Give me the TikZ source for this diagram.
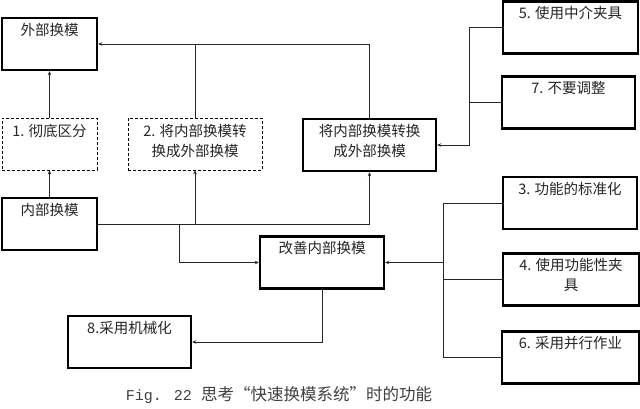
\documentclass[tikz,border=0pt]{standalone}
\usepackage{fontspec}
\setmainfont{Noto Sans CJK SC}
\newfontfamily\cjk{Noto Sans CJK SC}
\newfontfamily\monof{Liberation Mono}
\usetikzlibrary{arrows.meta}
\begin{document}
\begin{tikzpicture}[x=1pt,y=-1pt,
  bx/.style={draw=black, line width=2.4pt, minimum width=#1, minimum height=52pt, inner sep=0pt},
  dbx/.style={draw=black, line width=0.7pt, dashed, dash pattern=on 3pt off 2pt, minimum width=#1, minimum height=52pt, inner sep=0pt},
  txt/.style={font=\cjk\fontsize{14.5}{20}\selectfont, text=black!85, align=center, anchor=north, inner sep=0pt},
  cn/.style={draw=black!85, line width=0.8pt},
  ar/.style={cn, -{Stealth[length=4pt,width=3.5pt]}}]
\path[use as bounding box] (0,0) rectangle (640,408);
\fill[white] (0,0) rectangle (640,408);
% boxes
\node[bx=95pt] (ext) at (49.5,44) {};
\node[txt] (text) at ([yshift=-6pt]ext.north) {外部换模};
\node[dbx=95pt] (c1) at (49.5,144) {};
\node[txt] (tc1) at ([yshift=-6pt]c1.north) {1. 彻底区分};
\node[dbx=134pt] (c2) at (195,144) {};
\node[txt] (tc2) at ([yshift=-6pt]c2.north) {2. 将内部换模转\\换成外部换模};
\node[bx=133pt] (conv) at (369.5,145) {};
\node[txt] (tconv) at ([yshift=-6pt]conv.north) {将内部换模转换\\成外部换模};
\node[bx=95pt] (int) at (49.5,224) {};
\node[txt] (tint) at ([yshift=-6pt]int.north) {内部换模};
\node[bx=124pt] (imp) at (322,262.5) {};
\node[txt] (timp) at ([yshift=-6pt]imp.north) {改善内部换模};
\node[bx=123pt] (m8) at (129.5,342) {};
\node[txt] (tm8) at ([yshift=-6pt]m8.north) {8.采用机械化};
\node[bx=135pt] (b5) at (570.5,27.5) {};
\node[txt] (tb5) at ([yshift=-6pt]b5.north) {5. 使用中介夹具};
\node[bx=133pt] (b7) at (568.5,102.5) {};
\node[txt] (tb7) at ([yshift=-6pt]b7.north) {7. 不要调整};
\node[bx=134pt] (b3) at (570,203) {};
\node[txt] (tb3) at ([yshift=-6pt]b3.north) {3. 功能的标准化};
\node[bx=136pt] (b4) at (571,279.5) {};
\node[txt] (tb4) at ([yshift=-6pt]b4.north) {4. 使用功能性夹\\具};
\node[bx=137pt] (b6) at (570.5,357.5) {};
\node[txt] (tb6) at ([yshift=-6pt]b6.north) {6. 采用并行作业};
% connectors upper left
\draw[ar] (conv.north) |- (ext.east);
\draw[cn] (c2.north) -- (c2.north |- ext.east);
\draw[ar] (c1.north) -- (ext.south);
\draw[ar] (int.north) -- (c1.south);
\draw[ar] (int.east) -| (conv.south);
\draw[ar] (c2.south |- int.east) -- (c2.south);
\coordinate (j1) at (179,224);
\draw[ar] (j1) |- (imp.west);
\draw[ar] (imp.south) |- (m8.east);
% right lower trunk
\coordinate (t3) at (443,203);
\coordinate (t6) at (443,357.5);
\draw[cn] (b3.west) -- (t3) -- (t6) -- (b6.west);
\draw[cn] (b4.west) -- (b4.west -| t3);
\draw[ar] (imp.east -| t3) -- (imp.east);
% right upper trunk
\coordinate (u5) at (469,27.5);
\draw[cn] (b5.west) -- (u5);
\draw[ar] (u5) |- (conv.east);
\draw[cn] (b7.west) -- (b7.west -| u5);
% caption
\node[font=\fontsize{16.5}{18}\selectfont, text=black!75, inner sep=0pt] (cap) at (279,395) {{\monof\fontsize{15}{18}\selectfont Fig. 22 }思考“快速换模系统”时的功能};
\end{tikzpicture}
\end{document}
